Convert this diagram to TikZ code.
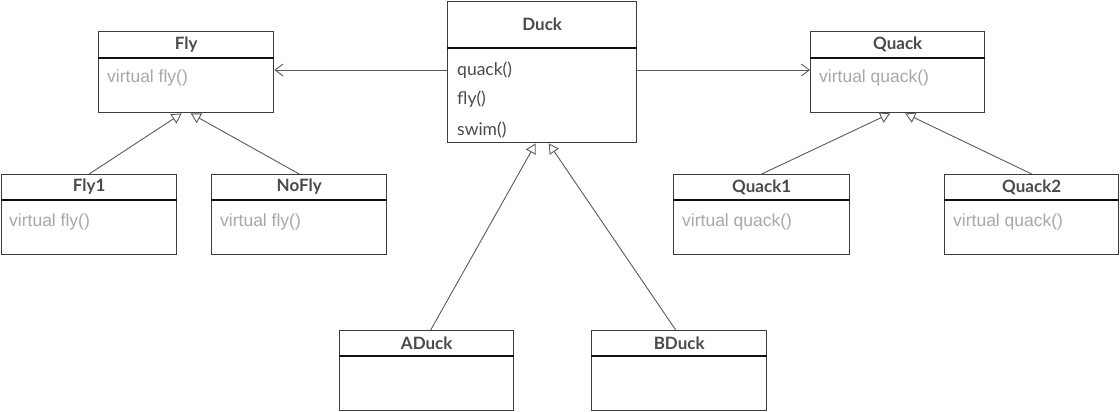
\documentclass[tikz,border=0pt]{standalone}
\usepackage{fontspec}
\setmainfont{Lato}
\newfontfamily\arialf{Liberation Sans}
\usetikzlibrary{arrows.meta}
\definecolor{boxline}{HTML}{3C3C3C}
\definecolor{divline}{HTML}{111111}
\definecolor{titletxt}{HTML}{4A4A4A}
\definecolor{lighttxt}{HTML}{A8A8A8}
\definecolor{conn}{HTML}{5A5A5A}
\tikzset{
  classbox/.style={draw=boxline, line width=1.4pt, fill=white, inner sep=0pt, anchor=north west},
  divider/.style={draw=divline, line width=1.8pt},
  classtitle/.style={font=\fontsize{17}{20}\selectfont\bfseries, text=titletxt, inner sep=0pt},
  method/.style={font=\arialf\fontsize{17.5}{20}\selectfont, text=lighttxt, inner sep=0pt, anchor=west},
  dmethod/.style={font=\fontsize{17.5}{20}\selectfont, text=titletxt, inner sep=0pt, anchor=west},
  inherit/.style={draw=conn, line width=0.9pt, -{Triangle[open, length=10pt, width=11pt, fill=white]}},
  assoc/.style={draw=conn, line width=0.9pt, -{Straight Barb[length=8pt, width=12pt]}}
}
\begin{document}
\begin{tikzpicture}[x=1pt,y=-1pt]
\useasboundingbox (0,0) rectangle (1120,412);

% boxes
\node[classbox, minimum width=175pt, minimum height=81pt] (fly) at (98,31) {};
\node[classbox, minimum width=175pt, minimum height=80pt] (fly1) at (1,174) {};
\node[classbox, minimum width=175pt, minimum height=80pt] (nofly) at (211,174) {};
\node[classbox, minimum width=189pt, minimum height=141pt] (duck) at (447,1) {};
\node[classbox, minimum width=174pt, minimum height=81pt] (quack) at (810,31) {};
\node[classbox, minimum width=176pt, minimum height=80pt] (quack1) at (673,174) {};
\node[classbox, minimum width=174pt, minimum height=80pt] (quack2) at (944,174) {};
\node[classbox, minimum width=174pt, minimum height=80pt] (aduck) at (339,330) {};
\node[classbox, minimum width=175pt, minimum height=80pt] (bduck) at (591,330) {};

% dividers
\foreach \b in {fly,quack}{
  \draw[divider] ([yshift=-27pt]\b.north west) -- ([yshift=-27pt]\b.north east);
}
\foreach \b in {fly1,nofly,quack1,quack2,aduck,bduck}{
  \draw[divider] ([yshift=-26pt]\b.north west) -- ([yshift=-26pt]\b.north east);
}
\draw[divider] ([yshift=-47pt]duck.north west) -- ([yshift=-47pt]duck.north east);

% titles
\node[classtitle] (flyT) at ([yshift=-13.5pt]fly.north) {Fly};
\node[classtitle] (quackT) at ([yshift=-13.5pt]quack.north) {Quack};
\node[classtitle] (fly1T) at ([yshift=-13pt]fly1.north) {Fly1};
\node[classtitle] (noflyT) at ([yshift=-13pt]nofly.north) {NoFly};
\node[classtitle] (quack1T) at ([yshift=-13pt]quack1.north) {Quack1};
\node[classtitle] (quack2T) at ([yshift=-13pt]quack2.north) {Quack2};
\node[classtitle] (aduckT) at ([yshift=-13pt]aduck.north) {ADuck};
\node[classtitle] (bduckT) at ([yshift=-13pt]bduck.north) {BDuck};
\node[classtitle] (duckT) at ([yshift=-23.5pt]duck.north) {Duck};

% methods
\node[method] (flyM) at ([xshift=9pt, yshift=-47pt]fly.north west) {virtual fly()};
\node[method] (quackM) at ([xshift=9pt, yshift=-47pt]quack.north west) {virtual quack()};
\node[method] (fly1M) at ([xshift=8pt, yshift=-48pt]fly1.north west) {virtual fly()};
\node[method] (noflyM) at ([xshift=9pt, yshift=-48pt]nofly.north west) {virtual fly()};
\node[method] (quack1M) at ([xshift=9pt, yshift=-48pt]quack1.north west) {virtual quack()};
\node[method] (quack2M) at ([xshift=9pt, yshift=-48pt]quack2.north west) {virtual quack()};
\node[dmethod] (duckM1) at ([xshift=10pt, yshift=-69pt]duck.north west) {quack()};
\node[dmethod] (duckM2) at ([xshift=10pt, yshift=-98pt]duck.north west) {fly()};
\node[dmethod] (duckM3) at ([xshift=10pt, yshift=-129pt]duck.north west) {swim()};

% associations
\coordinate (dl) at ([yshift=-69pt]duck.north west);
\coordinate (dr) at ([yshift=-69pt]duck.north east);
\draw[assoc] (dl) -- (dl -| fly.east);
\draw[assoc] (dr) -- (dr -| quack.west);

% inheritance
\draw[inherit] (fly1.north) -- ([xshift=-4.5pt]fly.south);
\draw[inherit] (nofly.north) -- ([xshift=4.5pt]fly.south);
\draw[inherit] (quack1.north) -- ([xshift=-7.5pt]quack.south);
\draw[inherit] (quack2.north) -- ([xshift=7.5pt]quack.south);
\draw[inherit] ([xshift=4pt]aduck.north) -- ([xshift=-6.5pt]duck.south);
\draw[inherit] ([xshift=-3.5pt]bduck.north) -- ([xshift=6.5pt]duck.south);
\end{tikzpicture}
\end{document}
